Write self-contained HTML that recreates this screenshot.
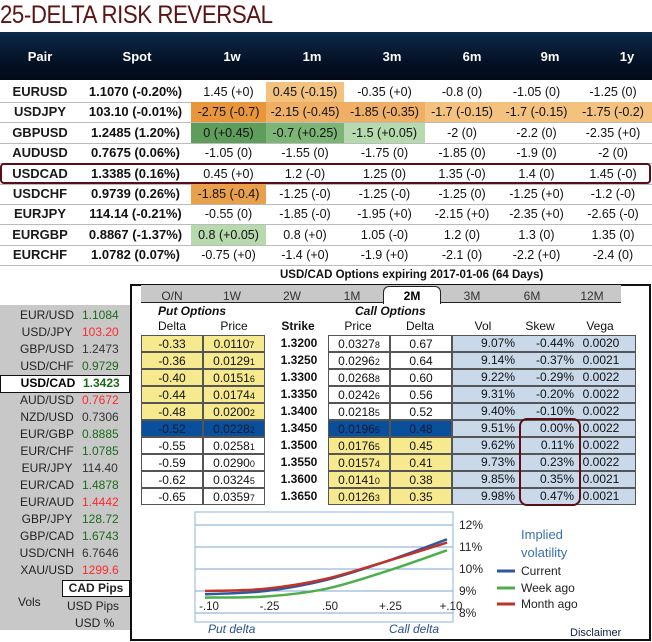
<!DOCTYPE html>
<html><head><meta charset="utf-8">
<style>
*{margin:0;padding:0;box-sizing:border-box}
body{width:652px;height:642px;background:#fff;font-family:"Liberation Sans",Arial,sans-serif;position:relative;overflow:hidden;color:#111}
.a{position:absolute;white-space:nowrap}
.c{text-align:center}
#title{left:0;top:1px;font-size:25px;color:#5a1414;letter-spacing:-0.5px;transform:scaleX(0.89);transform-origin:left}
#hdr{left:0;top:32px;width:652px;height:48px;background:linear-gradient(#0d2a4a,#041226 60%,#020a18)}
.hc{color:#fff;font-size:13px;font-weight:bold;top:49px}
.cell{position:absolute;height:20px;line-height:20px;text-align:center;font-size:12.5px}
.sep{position:absolute;left:0;width:652px;height:1px;background:#bbb}
#left{left:0;top:305px;width:130px;height:325px;background:#c8c8c8}
.lp{font-size:12px;color:#222}
#box{left:130px;top:284px;width:521px;height:357px;border:2px solid #111}
.tab{font-size:12px;color:#333;top:289px}
.oc{position:absolute;height:17px;line-height:16px;font-size:12px;text-align:center;border:1px solid #555}
.y{background:#f7ea8e}.w{background:#fff}.b{background:#0a4f9c}.lb{background:#c9d9ea}
small{font-size:9px}
</style></head><body>
<div id="title" class="a">25-DELTA RISK REVERSAL</div>
<div id="hdr" class="a"></div>
<div id="rr"></div>
<div class="a" style="left:0;top:163px;width:651px;height:21px;border:2px solid #5a0d12;border-radius:4px"></div>

<div class="a" style="left:280px;top:269px;font-size:11.5px;font-weight:bold">USD/CAD Options expiring 2017-01-06 (64 Days)</div>
<div id="left" class="a"></div>
<div id="lpl"></div>
<div id="box" class="a"></div>
<div class="a" style="left:141px;top:285px;width:480px;height:18px;background:#c8c8c8;border-bottom:1px solid #222"></div>
<div class="a" style="left:383px;top:286px;width:58px;height:18px;background:#fff;border:1px solid #222;border-bottom:none;border-radius:6px 6px 0 0"></div>
<div id="tabs"></div>
<div class="a" style="left:158px;top:304px;font-size:12px;font-style:italic;font-weight:bold;color:#111">Put Options</div>
<div class="a" style="left:355px;top:304px;font-size:12px;font-style:italic;font-weight:bold;color:#111">Call Options</div>
<div id="oh"></div>
<div id="ot"></div>
<div class="a" style="left:519px;top:418px;width:62px;height:88px;border:2px solid #5a0d12;border-radius:8px"></div>

<svg class="a" style="left:0;top:0" width="652" height="642" id="ch"></svg>

<script>
// ---------- risk reversal table ----------
const pairs=["EURUSD","USDJPY","GBPUSD","AUDUSD","USDCAD","USDCHF","EURJPY","EURGBP","EURCHF"];
const spots=["1.1070 (-0.20%)","103.10 (-0.01%)","1.2485 (1.20%)","0.7675 (0.06%)","1.3385 (0.16%)","0.9739 (0.26%)","114.14 (-0.21%)","0.8867 (-1.37%)","1.0782 (0.07%)"];
const tenors=["1w","1m","3m","6m","9m","1y"];
const rrVals=[
["1.45 (+0)","0.45 (-0.15)","-0.35 (+0)","-0.8 (0)","-1.05 (0)","-1.25 (0)"],
["-2.75 (-0.7)","-2.15 (-0.45)","-1.85 (-0.35)","-1.7 (-0.15)","-1.7 (-0.15)","-1.75 (-0.2)"],
["0 (+0.45)","-0.7 (+0.25)","-1.5 (+0.05)","-2 (0)","-2.2 (0)","-2.35 (+0)"],
["-1.05 (0)","-1.55 (0)","-1.75 (0)","-1.85 (0)","-1.9 (0)","-2 (0)"],
["0.45 (+0)","1.2 (-0)","1.25 (0)","1.35 (-0)","1.4 (0)","1.45 (-0)"],
["-1.85 (-0.4)","-1.25 (-0)","-1.25 (-0)","-1.25 (0)","-1.25 (+0)","-1.2 (-0)"],
["-0.55 (0)","-1.85 (-0)","-1.95 (+0)","-2.15 (+0)","-2.35 (+0)","-2.65 (-0)"],
["0.8 (+0.05)","0.8 (+0)","1.05 (-0)","1.2 (0)","1.3 (0)","1.35 (0)"],
["-0.75 (+0)","-1.4 (+0)","-1.9 (+0)","-2.1 (0)","-2.2 (+0)","-2.4 (0)"]];
const rrColors={"1,0":"#e9963b","1,1":"#efb065","1,2":"#efb065","1,3":"#f3c27f","1,4":"#f3c27f","1,5":"#f3c27f","0,1":"#f3c27f","5,0":"#e9a04a","2,0":"#5e9e5a","2,1":"#7db577","2,2":"#b6d9ae","7,0":"#b6d9ae"};
const colL=[191,266,344,425,499,574,652];
(function(){
 const hdrs=["Pair","Spot"].concat(tenors),hx=[40,137,232,312,392,472,550,627];
 const rr=document.getElementById('rr');
 hdrs.forEach((h,i)=>{const d=document.createElement('div');d.className='a hc';d.style.left=(hx[i]-30)+'px';d.style.width='60px';d.style.textAlign='center';d.textContent=h;
 
 rr.appendChild(d);});
 pairs.forEach((p,r)=>{const top=82+r*20.4;
  const s=document.createElement('div');s.className='sep';s.style.top=(top+20)+'px';
  
  rr.appendChild(s);
  let d=document.createElement('div');d.className='cell';d.style.left='0px';d.style.width='80px';d.style.top=top+'px';d.style.fontWeight='bold';d.style.fontSize='13px';d.style.color='#1a1a1a';d.textContent=p;
  
  rr.appendChild(d);
  d=document.createElement('div');d.className='cell';d.style.left='80px';d.style.width='111px';d.style.top=top+'px';d.style.fontWeight='bold';d.style.fontSize='13px';d.textContent=spots[r];
  
  rr.appendChild(d);
  rrVals[r].forEach((v,c)=>{d=document.createElement('div');d.className='cell';d.style.left=colL[c]+'px';d.style.width=(colL[c+1]-colL[c])+'px';d.style.top=top+'px';
   const bg=rrColors[r+','+c];if(bg)d.style.background=bg;d.textContent=v;
   
   rr.appendChild(d);});
 });
})();
// ---------- left spot list ----------
const lpNames=["EUR/USD","USD/JPY","GBP/USD","USD/CHF","USD/CAD","AUD/USD","NZD/USD","EUR/GBP","EUR/CHF","EUR/JPY","EUR/CAD","EUR/AUD","GBP/JPY","GBP/CAD","USD/CNH","XAU/USD"];
const lpVals=["1.1084","103.20","1.2473","0.9729","1.3423","0.7672","0.7306","0.8885","1.0785","114.40","1.4878","1.4442","128.72","1.6743","6.7646","1299.6"];
const lpCol=["g","r","n","g","g","r","n","g","g","n","g","r","g","g","n","r"];
(function(){
 const L=document.getElementById('lpl');const cm={g:"#1b6a1b",r:"#ff2a2a",n:"#333"};
 lpNames.forEach((n,i)=>{
  const yy=308+i*17;
  if(i==4){const bx=document.createElement('div');bx.className='a';bx.style.cssText='left:0;top:375px;width:130px;height:18px;background:#fff;border:1px solid #111';
   
   L.appendChild(bx);}
  const d=document.createElement('div');d.className='a lp';d.style.left=(i==4?13:12)+'px';d.style.top=yy+'px';
  d.innerHTML='<span style="display:inline-block;width:70px;text-align:center;'+(i==4?'font-weight:bold;color:#000':'')+'">'+n+'</span><span style="color:'+cm[lpCol[i]]+';'+(i==4?'font-weight:bold;color:#1b6a1b':'')+'">'+lpVals[i]+'</span>';
  
  L.appendChild(d);
 });
 const items=[["CAD Pips",63,580,true],["USD Pips",67,599,false],["USD %",75,616,false],["Vols",18,595,false]];
 items.forEach(it=>{const d=document.createElement('div');d.className='a lp';d.style.left=it[1]+'px';d.style.top=it[2]+'px';d.textContent=it[0];
  if(it[3]){d.style.cssText+=';background:#fff;border:1px solid #111;width:68px;height:17px;left:62px;text-align:center;font-weight:bold;line-height:15px';}
  
  L.appendChild(d);});
})();
// ---------- tabs ----------
const tabNames=["O/N","1W","2W","1M","2M","3M","6M","12M"];
(function(){const T=document.getElementById('tabs');
 tabNames.forEach((t,i)=>{const d=document.createElement('div');d.className='a tab c';d.style.left=(142+i*60)+'px';d.style.width='60px';d.textContent=t;
 if(t=="2M"){d.style.fontWeight='bold';d.style.color='#000';}
 
 T.appendChild(d);});})();
// ---------- options table ----------
const putDelta=["-0.33","-0.36","-0.40","-0.44","-0.48","-0.52","-0.55","-0.59","-0.62","-0.65"];
const putPrice=["0.01107","0.01291","0.01516","0.01744","0.02002","0.02282","0.02581","0.02900","0.03245","0.03597"];
const strikes=["1.3200","1.3250","1.3300","1.3350","1.3400","1.3450","1.3500","1.3550","1.3600","1.3650"];
const callPrice=["0.03278","0.02962","0.02688","0.02426","0.02185","0.01965","0.01765","0.01574","0.01410","0.01263"];
const callDelta=["0.67","0.64","0.60","0.56","0.52","0.48","0.45","0.41","0.38","0.35"];
const vols=["9.07%","9.14%","9.22%","9.31%","9.40%","9.51%","9.62%","9.73%","9.85%","9.98%"];
const skews=["-0.44%","-0.37%","-0.29%","-0.20%","-0.10%","0.00%","0.11%","0.23%","0.35%","0.47%"];
const vegas=["0.0020","0.0021","0.0022","0.0022","0.0022","0.0022","0.0022","0.0022","0.0021","0.0021"];
(function(){
 const H=document.getElementById('oh');
 [["Delta",172],["Price",234],["Strike",298],["Price",358],["Delta",420],["Vol",483],["Skew",540],["Vega",600]].forEach(h=>{
  const d=document.createElement('div');d.className='a c';d.style.cssText='left:'+(h[1]-30)+'px;width:60px;top:319px;font-size:12px;'+(h[0]=="Strike"?'font-weight:bold':'');d.textContent=h[0];
  
  H.appendChild(d);});
 const O=document.getElementById('ot');
 const fmt=s=>s.slice(0,-1)+'<small>'+s.slice(-1)+'</small>';
 strikes.forEach((k,r)=>{const top=335+r*17;
  const pc=r<5?'y':(r==5?'b':'w'),cc=r<5?'w':(r==5?'b':'y');
  const cells=[[141,62,putDelta[r],pc],[203,62,fmt(putPrice[r]),pc],[328,62,fmt(callPrice[r]),cc],[390,62,callDelta[r],cc],[452,184,'','lb']];
  cells.forEach((c,j)=>{const d=document.createElement('div');d.className='oc '+c[3];d.style.left=c[0]+'px';d.style.width=c[1]+'px';d.style.top=top+'px';d.innerHTML=c[2];
   if(c[3]=='b')d.style.color='#0b1c33';
   
   O.appendChild(d);});
  [[270,strikes[r],true],[457,vols[r],false],[516,skews[r],false],[572,vegas[r],false]].forEach((c,j)=>{
   const d=document.createElement('div');d.className='a';d.style.cssText='left:'+c[0]+'px;top:'+(top+1)+'px;width:58px;text-align:'+(j==0?'center':'right')+';font-size:12px;'+(c[2]?'font-weight:bold':'');
   if(j==3){d.style.textAlign='center';}
   d.textContent=c[1];
   
   O.appendChild(d);});
 });
})();
// ---------- implied vol chart ----------
const deltaLabels=["-.10","-.25",".50","+.25","+.10"];
const yTicks=[8,9,10,11,12];
const currentVol=[8.85,9.0,9.5,10.35,11.35];
const weekVol=[8.7,8.75,9.1,9.9,10.85];
const monthVol=[9.0,9.1,9.55,10.35,11.2];
(function(){
 const s=document.getElementById('ch'),NS='http://www.w3.org/2000/svg';
 const X=i=>205+i*60.5, Y=v=>613-(v-8)*22;
 function el(t,a,name){const e=document.createElementNS(NS,t);for(const k in a)e.setAttribute(k,a[k]);
  
  s.appendChild(e);return e;}
 el('rect',{x:195,y:512,width:258,height:110,fill:'#fff',stroke:'#8fb3d9','stroke-width':1},'plot-area');
 yTicks.forEach(v=>{el('line',{x1:195,x2:453,y1:Y(v),y2:Y(v),stroke:'#7ea6d4','stroke-width':1},'gridline');
  const t=el('text',{x:459,y:Y(v)+4,'font-size':12,'font-family':'Liberation Sans, sans-serif',fill:'#222'},'y-tick-label');t.textContent=v+'%';});
 deltaLabels.forEach((l,i)=>{const t=el('text',{x:X(i)+4,y:610,'font-size':11.5,'text-anchor':'middle','font-family':'Liberation Sans, sans-serif',fill:'#222'},'x-tick-label');t.textContent=l;});
 function path(arr){let d='M'+X(0)+','+Y(arr[0]);
  for(let i=0;i<arr.length-1;i++){const p0=i?i-1:i,p3=Math.min(i+2,arr.length-1);
   const c1x=X(i)+(X(i+1)-X(p0))/6,c1y=Y(arr[i])+(Y(arr[i+1])-Y(arr[p0]))/6;
   const c2x=X(i+1)-(X(p3)-X(i))/6,c2y=Y(arr[i+1])-(Y(arr[p3])-Y(arr[i]))/6;
   d+=' C'+c1x+','+c1y+' '+c2x+','+c2y+' '+X(i+1)+','+Y(arr[i+1]);}
  return d;}
 el('path',{d:path(weekVol),fill:'none',stroke:'#4cb04a','stroke-width':2.5},'series-week-ago');
 el('path',{d:path(currentVol),fill:'none',stroke:'#2d5a9c','stroke-width':2.5},'series-current');
 el('path',{d:path(monthVol),fill:'none',stroke:'#c0322a','stroke-width':2.5},'series-month-ago');
 const txt=(x,y,str,o,name)=>{const t=el('text',Object.assign({x:x,y:y,'font-size':12,'font-family':'Liberation Sans, sans-serif'},o),name);t.textContent=str;};
 txt(208,633,'Put delta',{fill:'#2a4f8f','font-style':'italic'},'x-axis-title-put');
 txt(389,633,'Call delta',{fill:'#2a4f8f','font-style':'italic'},'x-axis-title-call');
 txt(521,539,'Implied',{fill:'#3a6fb0','font-size':13},'legend-title');
 txt(521,557,'volatility',{fill:'#3a6fb0','font-size':13},'legend-title-2');
 [['Current','#2d5a9c',575],['Week ago','#4cb04a',592],['Month ago','#c0322a',608]].forEach(l=>{
  el('line',{x1:497,x2:515,y1:l[2]-4,y2:l[2]-4,stroke:l[1],'stroke-width':3},'legend-swatch');
  txt(521,l[2],l[0],{fill:'#222'},'legend-entry');});
 txt(570,636,'Disclaimer',{fill:'#0d1f3d','font-size':11},'disclaimer-link');
})();
</script>
</body></html>
